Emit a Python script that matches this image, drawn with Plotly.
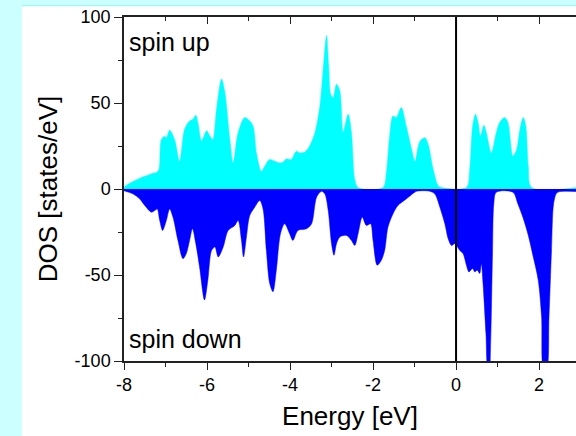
import plotly.graph_objects as go

# ---- data ----
energy_up = [-8.0, -7.98, -7.62, -7.46, -7.30, -7.22, -7.16, -7.10, -7.02, -6.98, -6.90, -6.78, -6.66,
             -6.54, -6.42, -6.34, -6.27, -6.22, -6.13, -6.01, -5.93, -5.86, -5.77, -5.65, -5.57, -5.45,
             -5.37, -5.25, -5.09, -4.97, -4.89, -4.81, -4.69, -4.61, -4.49, -4.37, -4.25, -4.17, -4.09,
             -3.97, -3.85, -3.77, -3.65, -3.53, -3.40, -3.28, -3.20, -3.12, -3.07, -3.02, -2.96, -2.88,
             -2.80, -2.72, -2.60, -2.52, -2.44, -2.36, -1.76, -1.68, -1.60, -1.52, -1.44, -1.32, -1.20,
             -1.07, -0.99, -0.87, -0.75, -0.67, -0.55, -0.43, -0.35, 0.25, 0.33, 0.40, 0.47, 0.53, 0.59,
             0.67, 0.73, 0.85, 0.97, 1.05, 1.17, 1.25, 1.37, 1.46, 1.54, 1.62, 1.68, 1.74, 1.82, 2.9]
dos_up = [0.5, 1.5, 6.3, 7.7, 9.2, 9.6, 11.0, 28.7, 30.7, 29.7, 34.2, 28.7, 16.1,
          34.7, 39.5, 40.5, 42.9, 38.6, 27.9, 33.8, 30.7, 28.7, 46.3, 63.9, 56.1, 28.7,
          15.1, 32.7, 41.5, 39.5, 36.6, 21.0, 10.2, 13.2, 17.1, 16.1, 15.1, 15.5, 17.4,
          17.1, 21.9, 21.0, 21.4, 24.9, 32.7, 48.2, 69.7, 89.2, 72.0, 55.0, 53.2, 60.9,
          57.0, 33.0, 43.5, 32.7, 5.4, 0.8, 0.8, 9.2, 30.7, 42.4, 41.5, 47.4, 36.6,
          23.0, 16.1, 27.8, 29.8, 25.9, 11.3, 1.9, 0.8, 0.8, 11.3, 36.6, 43.5, 38.6, 30.7,
          37.0, 32.7, 21.0, 32.7, 38.6, 41.5, 38.6, 19.1, 23.0, 34.7, 41.5, 36.6, 13.2, 0.8, 0.8]

energy_down = [-8.0, -7.78, -7.62, -7.50, -7.34, -7.26, -7.20, -7.14, -7.07, -6.98, -6.90, -6.82, -6.70,
               -6.58, -6.50, -6.42, -6.35, -6.27, -6.18, -6.06, -5.98, -5.89, -5.81, -5.73, -5.61, -5.49,
               -5.33, -5.25, -5.17, -5.12, -5.05, -4.97, -4.85, -4.73, -4.65, -4.57, -4.49, -4.41, -4.33,
               -4.23, -4.13, -4.01, -3.93, -3.81, -3.60, -3.48, -3.36, -3.24, -3.16, -3.08, -3.00, -2.94,
               -2.88, -2.80, -2.64, -2.52, -2.44, -2.36, -2.26, -2.16, -2.06, -2.00, -1.90, -1.80, -1.72,
               -1.64, -1.52, -1.40, -1.20, -1.03, -0.95, -0.63, -0.51, -0.39, -0.27, -0.19, -0.11, -0.03,
               0.09, 0.17, 0.25, 0.31, 0.40, 0.45, 0.51, 0.57, 0.61, 0.65, 0.72, 0.77, 0.80, 0.83, 0.88,
               0.91, 0.97, 1.37, 1.49, 1.61, 1.73, 1.86, 1.98, 2.06, 2.11, 2.18, 2.24, 2.30, 2.35, 2.42,
               2.50, 2.9]
dos_down = [-1.0, -2.9, -5.8, -9.6, -13.5, -12.5, -11.6, -18.3, -24.1, -18.3, -11.6, -16.4, -29.9,
            -40.5, -37.6, -29.9, -23.1, -31.8, -45.3, -64.5, -53.0, -35.7, -33.7, -39.5, -33.7, -24.1,
            -21.2, -18.3, -29.9, -39.5, -27.9, -15.4, -10.6, -6.7, -11.6, -35.7, -54.9, -59.7, -47.2,
            -26.0, -20.2, -26.0, -29.9, -24.1, -23.1, -20.2, -4.8, -1.3, -2.9, -12.5, -31.8, -38.5,
            -31.8, -27.9, -27.0, -29.9, -32.8, -26.0, -16.4, -21.2, -20.2, -29.9, -44.3, -41.4, -35.7,
            -22.1, -14.5, -9.6, -5.8, -2.5, -1.3, -1.3, -2.9, -10.6, -20.2, -28.9, -32.8, -31.8,
            -35.7, -37.6, -44.3, -48.2, -46.2, -48.2, -47.2, -49.1, -43.4, -54.9, -83.8, -105, -105, -93, -35.7,
            -8.7, -1.9, -1.9, -8.7, -16.4, -26.0, -39.5, -53.0, -74.2, -105, -105, -74.0, -35.7, -8.7, -2.5,
            -1.5, -1.5]

x_tickvals = [-8, -6, -4, -2, 0, 2]
x_ticktext = ["-8", "-6", "-4", "-2", "0", "2"]
y_tickvals = [-100, -50, 0, 50, 100]
y_ticktext = ["-100", "-50", "0", "50", "100"]

FONT = "Liberation Sans, Arial, sans-serif"
AXC = "#222222"

fig = go.Figure()
fig.add_trace(go.Scatter(x=energy_up, y=dos_up, mode="lines", fill="tozeroy",
                         fillcolor="#00FFFF", line=dict(color="#00FFFF", width=0.5, shape="spline", smoothing=0.85),
                         hoverinfo="skip", showlegend=False))
fig.add_trace(go.Scatter(x=energy_down, y=dos_down, mode="lines", fill="tozeroy",
                         fillcolor="#0000FF", line=dict(color="#0000FF", width=0.5, shape="spline", smoothing=0.85),
                         hoverinfo="skip", showlegend=False))
# invisible trace to activate the top (mirror) axis
fig.add_trace(go.Scatter(x=[-8], y=[0], xaxis="x2", mode="markers",
                         marker=dict(opacity=0), hoverinfo="skip", showlegend=False))

xr = [-8, 2.89]
fig.update_layout(
    width=576, height=436,
    margin=dict(l=124, r=0, t=17, b=75),
    paper_bgcolor="#CCFFFF", plot_bgcolor="white",
    font=dict(family=FONT, color="black"),
    xaxis=dict(range=xr, showgrid=False, zeroline=False, showline=True, linecolor=AXC, linewidth=1.5,
               tickmode="array", tickvals=x_tickvals, ticktext=x_ticktext,
               ticks="outside", ticklen=7, tickwidth=1.3, tickcolor=AXC,
               minor=dict(dtick=1, tick0=0, ticks="outside", ticklen=4, tickwidth=1.2, tickcolor=AXC),
               tickfont=dict(size=18, family=FONT, color="black"),
               title=dict(text="Energy [eV]", font=dict(size=26, family=FONT, color="black"), standoff=12)),
    xaxis2=dict(range=xr, overlaying="x", side="top", showgrid=False, zeroline=False,
                showline=True, linecolor=AXC, linewidth=1.5, showticklabels=False,
                tickmode="linear", tick0=0, dtick=2, ticks="inside", ticklen=7, tickwidth=1.3, tickcolor=AXC,
                minor=dict(dtick=1, tick0=0, ticks="inside", ticklen=4, tickwidth=1.2, tickcolor=AXC)),
    yaxis=dict(range=[-100, 100], showgrid=False, zeroline=False, showline=True, linecolor=AXC, linewidth=1.5,
               tickmode="array", tickvals=y_tickvals, ticktext=y_ticktext,
               ticks="outside", ticklen=8, tickwidth=1.3, tickcolor=AXC,
               minor=dict(dtick=25, tick0=0, ticks="outside", ticklen=4, tickwidth=1.2, tickcolor=AXC),
               tickfont=dict(size=18, family=FONT, color="black"),
               title=dict(text="DOS [states/eV]", font=dict(size=26, family=FONT, color="black"), standoff=10)),
    shapes=[
        dict(type="rect", xref="paper", yref="paper", x0=-0.2257, x1=1.2, y0=-0.3, y1=1.0334,
             fillcolor="white", line=dict(width=0), layer="below"),
        dict(type="line", xref="paper", yref="paper", x0=-0.2257, x1=1.2, y0=1.0334, y1=1.0334,
             line=dict(color="#A8F4F4", width=1.5), layer="below"),
        dict(type="line", xref="x", yref="paper", x0=0, x1=0, y0=0, y1=1,
             line=dict(color="black", width=2)),
    ],
    annotations=[
        dict(text="spin up", x=-7.93, y=85.5, xref="x", yref="y", xanchor="left", yanchor="middle",
             showarrow=False, font=dict(size=25, family=FONT, color="black")),
        dict(text="spin down", x=-7.93, y=-87.3, xref="x", yref="y", xanchor="left", yanchor="middle",
             showarrow=False, font=dict(size=25, family=FONT, color="black")),
    ],
)

fig.write_html("out.html", config={"displayModeBar": False},
               post_script="document.body.style.margin='0';document.body.style.padding='0';"
                           "document.documentElement.style.overflow='hidden';")
